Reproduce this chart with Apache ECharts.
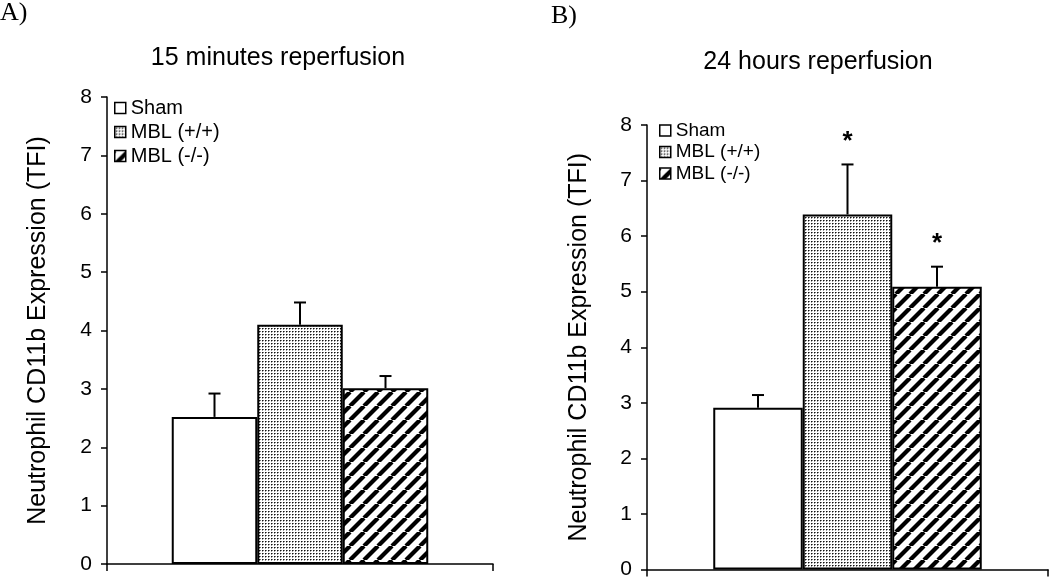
<!DOCTYPE html>
<html>
<head>
<meta charset="utf-8">
<script src="https://cdn.jsdelivr.net/npm/echarts@6/dist/echarts.min.js"></script>
<style>html,body{margin:0;padding:0;background:#fff}#chart{width:1050px;height:580px}</style>
</head>
<body>
<div id="chart"></div>
<script>
// ---- data ----
const groups = ['Sham', 'MBL (+/+)', 'MBL (-/-)'];
const panelLabels = ['A)', 'B)'];
const panelTitles = ['15 minutes reperfusion', '24 hours reperfusion'];
const yAxisName = 'Neutrophil CD11b Expression (TFI)';
const categories = ['CD11b'];
const means15min = [2.52, 4.10, 3.01];
const sem15min = [0.40, 0.38, 0.21];
const sig15min = [false, false, false];
const means24h = [2.91, 6.39, 5.09];
const sem24h = [0.23, 0.90, 0.36];
const sig24h = [false, true, true];
const yMin = 0, yMax = 8, yStep = 1;

// ---- patterns ----
function dotPattern() {
  const c = document.createElement('canvas');
  c.width = 3; c.height = 3;
  const g = c.getContext('2d');
  g.fillStyle = '#fff'; g.fillRect(0, 0, 3, 3);
  g.fillStyle = '#111'; g.fillRect(1, 1, 1, 1);
  g.fillStyle = '#777'; g.fillRect(2, 1, 1, 1);
  g.fillStyle = '#999'; g.fillRect(1, 2, 1, 1);
  return c;
}
function stripePattern() {
  const s = 14;
  const c = document.createElement('canvas');
  c.width = s; c.height = s;
  const g = c.getContext('2d');
  g.fillStyle = '#fff'; g.fillRect(0, 0, s, s);
  g.strokeStyle = '#000'; g.lineWidth = 4.2;
  for (let k = -1; k <= 1; k++) {
    g.beginPath(); g.moveTo(k * s, s); g.lineTo(k * s + s, 0); g.stroke();
  }
  return c;
}
const fills = [
  '#ffffff',
  { image: dotPattern(), repeat: 'repeat' },
  { image: stripePattern(), repeat: 'repeat' }
];

const panels = [
  { means: means15min, sem: sem15min, sig: sig15min, grid: { left: 107, top: 97, width: 386, height: 467 }, barW: 85.5, nameGap: 56,
    legend: { left: 114, top: 98, itemGap: 4, fontSize: 20 }, title: { x: 278, y: 46 }, label: { x: 0, y: 0 } },
  { means: means24h, sem: sem24h, sig: sig24h, grid: { left: 647, top: 125, width: 401, height: 447 }, barW: 89.5, nameGap: 55,
    legend: { left: 659, top: 121, itemGap: 2.5, fontSize: 19 }, title: { x: 818, y: 50 }, label: { x: 551, y: 3 } }
];

const font = 'Liberation Sans, Arial, sans-serif';
const option = {
  animation: false,
  backgroundColor: '#fff',
  title: [], grid: [], xAxis: [], yAxis: [], legend: [], series: []
};

panels.forEach((p, pi) => {
  option.title.push({ text: panelTitles[pi], left: p.title.x, top: p.title.y, textAlign: 'center', padding: 0,
    textStyle: { fontFamily: font, fontSize: 25, fontWeight: 'normal', color: '#000' } });
  option.title.push({ text: panelLabels[pi], left: p.label.x, top: p.label.y, padding: 0,
    textStyle: { fontFamily: 'Liberation Serif, Times New Roman, serif', fontSize: 26, fontWeight: 'normal', color: '#000' } });
  option.grid.push(Object.assign({ containLabel: false }, p.grid));
  option.xAxis.push({ type: 'category', gridIndex: pi, data: categories,
    axisLine: { lineStyle: { color: '#000', width: 1.5 } },
    axisTick: { show: true, length: 7, lineStyle: { color: '#000', width: 1.5 } },
    axisLabel: { show: false }, splitLine: { show: false } });
  option.yAxis.push({ type: 'value', gridIndex: pi, min: yMin, max: yMax, interval: yStep,
    name: yAxisName, nameLocation: 'middle', nameGap: p.nameGap, nameRotate: 90,
    nameTextStyle: { fontFamily: font, fontSize: 25, color: '#000' },
    axisLine: { show: true, lineStyle: { color: '#000', width: 1.5 } },
    axisTick: { show: true, length: 6, lineStyle: { color: '#000', width: 1.5 } },
    axisLabel: { fontFamily: font, fontSize: 21, color: '#000', margin: 15 },
    splitLine: { show: false } });
  option.legend.push({ data: groups, orient: 'vertical', left: p.legend.left, top: p.legend.top, padding: 0,
    itemGap: p.legend.itemGap, itemWidth: 11, itemHeight: 11, itemTextGap: 5, icon: 'rect',
    selectedMode: false,
    itemStyle: { borderColor: '#000', borderWidth: 1.5 },
    textStyle: { fontFamily: font, fontSize: p.legend.fontSize, color: '#000' } });
  groups.forEach((g, gi) => {
    option.series.push({ type: 'bar', name: g, xAxisIndex: pi, yAxisIndex: pi,
      data: [p.means[gi]], barWidth: p.barW, barGap: '0%',
      itemStyle: { color: fills[gi], borderColor: '#000', borderWidth: 2 }, z: 2 });
  });
  const errData = groups.map((g, gi) => [0, p.means[gi], p.sem[gi], gi, p.sig[gi] ? 1 : 0]);
  option.series.push({ type: 'custom', xAxisIndex: pi, yAxisIndex: pi, z: 5,
    data: errData, encode: { x: 0, y: 1 },
    renderItem: function (params, api) {
      const gi = api.value(3);
      const base = api.coord([0, api.value(1)]);
      const top = api.coord([0, api.value(1) + api.value(2)]);
      const x = base[0] + (gi - 1) * p.barW;
      const children = [
        { type: 'line', shape: { x1: x, y1: base[1], x2: x, y2: top[1] }, style: { stroke: '#000', lineWidth: 2 } },
        { type: 'line', shape: { x1: x - 6, y1: top[1], x2: x + 6, y2: top[1] }, style: { stroke: '#000', lineWidth: 2 } }
      ];
      if (api.value(4)) {
        children.push({ type: 'text', style: { text: '*', x: x, y: top[1] - 23, textAlign: 'center', textVerticalAlign: 'middle',
          font: 'bold 26px ' + font, fill: '#000' } });
      }
      return { type: 'group', children: children };
    } });
});

const chart = echarts.init(document.getElementById('chart'), null, { renderer: 'canvas' });
chart.setOption(option);
</script>
</body>
</html>
